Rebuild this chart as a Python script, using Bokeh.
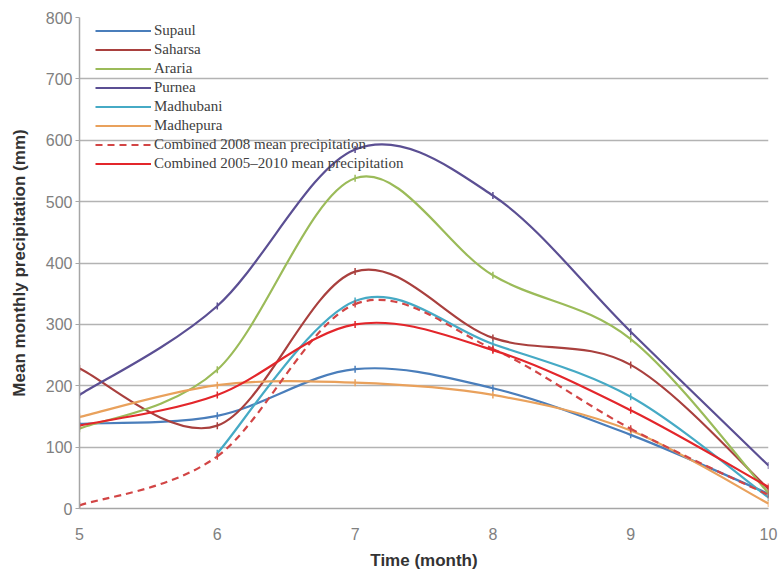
import math
import numpy as np
from bokeh.plotting import figure
from bokeh.models import Range1d, FixedTicker, Legend, LegendItem, ColumnDataSource
from bokeh.embed import file_html
from bokeh.resources import INLINE

months = [5, 6, 7, 8, 9, 10]
month_labels = ["5", "6", "7", "8", "9", "10"]
y_ticks = [0, 100, 200, 300, 400, 500, 600, 700, 800]

supaul = [138, 151, 227, 196, 120, 24]
saharsa = [228, 135, 386, 278, 234, 32]
araria = [130, 226, 538, 380, 276, 25]
purnea = [185, 330, 585, 510, 288, 70]
madhubani = [None, 90, 338, 268, 182, 18]
madhepura = [149, 201, 205, 185, 127, 8]
combined_2008 = [5, 85, 333, 260, 130, 22]
combined_2005_2010 = [135, 185, 300, 258, 160, 35]

series = [
    ("Supaul", supaul, "#4a7ebb", None),
    ("Saharsa", saharsa, "#a9403e", None),
    ("Araria", araria, "#9bbb59", None),
    ("Purnea", purnea, "#5b4f93", None),
    ("Madhubani", madhubani, "#46aac5", None),
    ("Madhepura", madhepura, "#e9a15c", None),
    ("Combined 2008 mean precipitation", combined_2008, "#d24545", "7 5"),
    ("Combined 2005\u20132010 mean precipitation", combined_2005_2010, "#e3262b", None),
]


def smooth_segments(xs, ys):
    pts = [(x, y) for x, y in zip(xs, ys) if y is not None]
    n = len(pts)
    d = dict(x0=[], y0=[], x1=[], y1=[], cx0=[], cy0=[], cx1=[], cy1=[])
    for i in range(n - 1):
        p0 = pts[max(i - 1, 0)]
        p1 = pts[i]
        p2 = pts[i + 1]
        p3 = pts[min(i + 2, n - 1)]
        d["x0"].append(p1[0]); d["y0"].append(p1[1])
        d["x1"].append(p2[0]); d["y1"].append(p2[1])
        d["cx0"].append(p1[0] + (p2[0] - p0[0]) / 6.0)
        d["cy0"].append(p1[1] + (p2[1] - p0[1]) / 6.0)
        d["cx1"].append(p2[0] - (p3[0] - p1[0]) / 6.0)
        d["cy1"].append(p2[1] - (p3[1] - p1[1]) / 6.0)
    return d, pts


p = figure(width=780, height=572, x_range=Range1d(5, 10), y_range=Range1d(0, 800),
           output_backend="svg", toolbar_location=None,
           min_border_left=79, min_border_right=12, min_border_top=17, min_border_bottom=62)
p.outline_line_color = None
p.background_fill_color = "white"
p.border_fill_color = "white"

p.xgrid.grid_line_color = None
p.ygrid.ticker = FixedTicker(ticks=y_ticks)
p.ygrid.grid_line_color = "#b3b3b3"
p.ygrid.grid_line_width = 1.5

p.yaxis.ticker = FixedTicker(ticks=y_ticks)
p.xaxis.ticker = FixedTicker(ticks=months)
p.xaxis.major_label_overrides = {m: l for m, l in zip(months, month_labels)}

for ax in (p.xaxis[0], p.yaxis[0]):
    ax.axis_line_color = "#a6a6a6"
    ax.axis_line_width = 1.5
    ax.major_label_text_font = "Liberation Sans"
    ax.major_label_text_font_size = "16px"
    ax.major_label_text_color = "#808080"
    ax.axis_label_text_font = "Liberation Sans"
    ax.axis_label_text_font_style = "bold"
    ax.axis_label_text_font_size = "17px"
    ax.axis_label_text_color = "#333333"
    ax.minor_tick_line_color = None

p.yaxis.major_tick_line_color = "#a6a6a6"
p.yaxis.major_tick_out = 4
p.yaxis.major_tick_in = 0
p.yaxis.major_label_standoff = 3
p.yaxis.axis_label = "Mean monthly precipitation (mm)"
p.yaxis.axis_label_standoff = 14

p.xaxis.major_tick_line_color = None
p.xaxis.major_tick_out = 0
p.xaxis.major_tick_in = 0
p.xaxis.major_label_standoff = 19
p.xaxis.axis_label = "Time (month)"
p.xaxis.axis_label_standoff = 8

items = []
for name, vals, color, dash in series:
    d, pts = smooth_segments(months, vals)
    src = ColumnDataSource(d)
    kw = dict(line_color=color, line_width=2.2)
    if dash:
        kw["line_dash"] = dash
    r_line = p.bezier(x0="x0", y0="y0", x1="x1", y1="y1", cx0="cx0", cy0="cy0",
                      cx1="cx1", cy1="cy1", source=src, **kw)
    msrc = ColumnDataSource(dict(x=[q[0] for q in pts], y=[q[1] for q in pts]))
    r_mark = p.scatter(x="x", y="y", source=msrc, marker="dash", angle=math.pi / 2,
                       size=7, line_color=color, line_width=1.5, fill_color=None)
    rs = [r_line] if dash else [r_line, r_mark]
    items.append(LegendItem(label=name, renderers=rs))

legend = Legend(items=items, location=(10, 329))
legend.background_fill_alpha = 0
legend.border_line_alpha = 0
legend.padding = 6
legend.margin = 0
legend.spacing = 0
legend.label_height = 19
legend.glyph_height = 19
legend.glyph_width = 56
legend.label_standoff = 3
legend.label_text_font = "Liberation Serif"
legend.label_text_font_size = "15px"
legend.label_text_color = "#404040"
p.add_layout(legend)

open("out.html", "w").write(file_html(p, INLINE))
